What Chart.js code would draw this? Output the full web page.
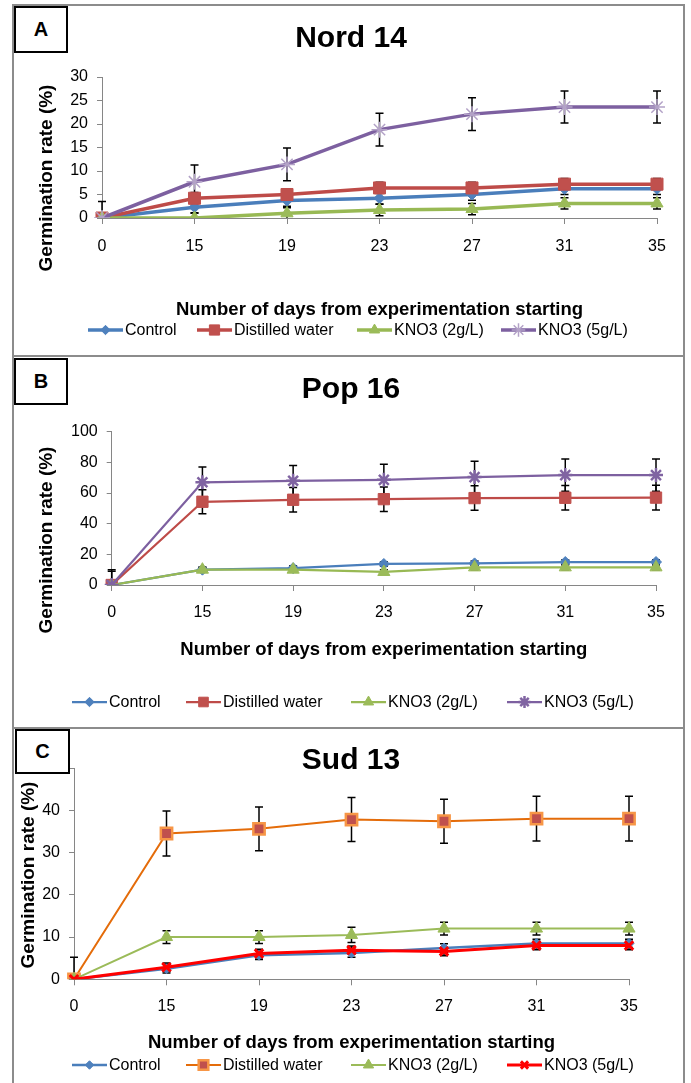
<!DOCTYPE html>
<html>
<head>
<meta charset="utf-8">
<script src="https://cdn.jsdelivr.net/npm/chart.js@4.4.1/dist/chart.umd.min.js"></script>
<style>
  body { margin: 0; background: #fff; width: 691px; height: 1083px; position: relative; overflow: hidden; font-family: "Liberation Sans", Arial, sans-serif; }
  .frame { position: absolute; left: 12px; width: 673px; border: 2px solid #8c8c8c; border-bottom: none; box-sizing: border-box; }
  canvas { position: absolute; left: 13px; }
  .tag { position: absolute; border: 2px solid #000; box-sizing: border-box; background: #fff; font-weight: bold; font-size: 20px; display: flex; align-items: center; justify-content: center; z-index: 2; }
</style>
</head>
<body>
<div class="frame" style="top:4px;height:353px"></div>
<div class="frame" style="top:355px;height:374px"></div>
<div class="frame" style="top:727px;height:360px"></div>

<canvas id="chartA" width="671" height="351" style="top:4px"></canvas>
<canvas id="chartB" width="671" height="372" style="top:356px"></canvas>
<canvas id="chartC" width="671" height="355" style="top:728px"></canvas>

<div class="tag" style="left:14px;top:6px;width:54px;height:47px">A</div>
<div class="tag" style="left:14px;top:358px;width:54px;height:47px">B</div>
<div class="tag" style="left:15px;top:729px;width:55px;height:45px">C</div>

<script>
// days after the start of the experiment (category axis)
const days = ['0', '15', '19', '23', '27', '31', '35'];
const seriesNames = ['Control', 'Distilled water', 'KNO3 (2g/L)', 'KNO3 (5g/L)'];

// A - Nord 14, germination rate (%)
const nordControl = [0, 2.3, 3.7, 4.2, 5.0, 6.2, 6.2];
const nordWater   = [0, 4.2, 5.0, 6.4, 6.4, 7.2, 7.2];
const nordKno2    = [0, 0, 1.0, 1.7, 1.9, 3.1, 3.1];
const nordKno5    = [0, 7.7, 11.4, 18.8, 22.1, 23.6, 23.6];
const nordControlErr = [0, 1.2, 1.2, 1.2, 1.2, 1.2, 1.2];
const nordWaterErr   = [0, 1.2, 1.2, 1.2, 1.2, 1.2, 1.2];
const nordKno2Err    = [0, 1.0, 1.2, 1.2, 1.2, 1.2, 1.2];
const nordKno5Err    = [3.5, 3.6, 3.5, 3.5, 3.5, 3.4, 3.4];

// B - Pop 16
const popControl = [0, 10, 11, 13.7, 14.1, 15, 15];
const popWater   = [0, 54.3, 55.6, 56, 56.7, 56.9, 57];
const popKno2    = [0, 10, 10, 8.5, 11.5, 11.5, 11.5];
const popKno5    = [0, 67, 68, 68.6, 70.4, 71.7, 71.7];
const popControlErr = [0, 1.5, 1.5, 1.5, 1.5, 1.5, 1.5];
const popWaterErr   = [10, 7.8, 8, 8, 8, 8, 8];
const popKno2Err    = [0, 1.5, 1.5, 1.5, 1.5, 1.5, 1.5];
const popKno5Err    = [9, 10, 10, 10.2, 10.4, 10.5, 10.5];

// C - Sud 13
const sudControl = [0, 2.5, 5.7, 6.2, 7.4, 8.5, 8.5];
const sudWater   = [0, 34.5, 35.6, 37.8, 37.4, 38, 38];
const sudKno2    = [0, 10, 10, 10.5, 12, 12, 12];
const sudKno5    = [0, 2.85, 6.1, 6.9, 6.6, 8, 8];
const sudControlErr = [0, 1, 1, 1, 1, 1, 1];
const sudWaterErr   = [5.2, 5.3, 5.2, 5.2, 5.2, 5.3, 5.3];
const sudKno2Err    = [0, 1.5, 1.5, 1.8, 1.5, 1.5, 1.5];
const sudKno5Err    = [0, 1, 1, 1, 1, 1, 1];

const FONT = '"Liberation Sans", Arial, sans-serif';
const AXIS_GRAY = '#868686';

// vertical error bars, read from dataset.errors
const errorBars = {
  id: 'errorBars',
  beforeDatasetsDraw(chart) {
    const ctx = chart.ctx;
    const y = chart.scales.y;
    const area = chart.chartArea;
    ctx.save();
    ctx.beginPath();
    ctx.rect(area.left - 10, area.top - 10, area.right - area.left + 20, area.bottom - area.top + 10);
    ctx.clip();
    ctx.strokeStyle = '#000';
    ctx.lineWidth = 1.5;
    chart.data.datasets.forEach((ds, i) => {
      const meta = chart.getDatasetMeta(i);
      meta.data.forEach((pt, j) => {
        const e = ds.errors[j];
        if (!e) return;
        const v = ds.data[j];
        const top = y.getPixelForValue(v + e);
        const bot = y.getPixelForValue(v - e);
        ctx.beginPath();
        ctx.moveTo(pt.x, top); ctx.lineTo(pt.x, bot);
        ctx.moveTo(pt.x - 4, top); ctx.lineTo(pt.x + 4, top);
        ctx.moveTo(pt.x - 4, bot); ctx.lineTo(pt.x + 4, bot);
        ctx.stroke();
      });
    });
    ctx.restore();
  }
};

// panel title, rotated y title and the excel-like legend
const decor = {
  id: 'decor',
  afterDraw(chart, _, opts) {
    const ctx = chart.ctx;
    ctx.save();
    ctx.fillStyle = '#000';
    ctx.textAlign = 'center';
    ctx.textBaseline = 'middle';
    ctx.font = 'bold 30px ' + FONT;
    ctx.fillText(opts.title, opts.titleX, opts.titleY);

    ctx.save();
    ctx.translate(opts.yTitleX, opts.yTitleY);
    ctx.rotate(-Math.PI / 2);
    ctx.font = 'bold 19px ' + FONT;
    ctx.fillText('Germination rate (%)', 0, 0);
    ctx.restore();

    ctx.font = '16px ' + FONT;
    ctx.textAlign = 'left';
    chart.data.datasets.forEach((ds, i) => {
      const x = opts.legendX[i];
      const ly = opts.legendY;
      ctx.strokeStyle = ds.borderColor;
      ctx.lineWidth = ds.borderWidth;
      ctx.beginPath();
      ctx.moveTo(x, ly); ctx.lineTo(x + 35, ly);
      ctx.stroke();
      ctx.fillStyle = ds.pointBackgroundColor;
      ctx.strokeStyle = ds.pointBorderColor;
      ctx.lineWidth = ds.pointBorderWidth;
      Chart.helpers.drawPoint(ctx, {
        pointStyle: ds.pointStyle, rotation: 0,
        radius: ds.pointRadius * 0.85, borderWidth: ds.pointBorderWidth
      }, x + 17.5, ly);
      ctx.fillStyle = '#000';
      ctx.fillText(ds.label, x + 37, ly + 1);
    });
    ctx.restore();
  }
};

function series(label, data, errors, look) {
  return {
    label: label,
    data: data,
    errors: errors,
    borderColor: look.line,
    borderWidth: look.width,
    pointStyle: look.marker,
    pointRadius: look.radius,
    pointBackgroundColor: look.fill,
    pointBorderColor: look.edge,
    pointBorderWidth: look.edgeWidth,
    tension: 0,
    order: look.order
  };
}

function makeChart(id, datasets, cfg) {
  return new Chart(document.getElementById(id), {
    type: 'line',
    data: { labels: days, datasets: datasets },
    plugins: [errorBars, decor],
    options: {
      responsive: false,
      animation: false,
      events: [],
      layout: { padding: { top: cfg.top, right: cfg.right, bottom: cfg.bottom, left: 0 } },
      plugins: {
        legend: { display: false },
        tooltip: { enabled: false },
        decor: cfg.decor
      },
      scales: {
        x: {
          type: 'category',
          offset: false,
          afterFit(scale) { scale.height = cfg.xHeight; },
          grid: { drawOnChartArea: false, drawTicks: true, tickLength: 6, color: AXIS_GRAY },
          border: { color: AXIS_GRAY, width: 1 },
          ticks: { color: '#000', font: { family: FONT, size: 16 }, padding: cfg.xPad, maxRotation: 0, autoSkip: false },
          title: {
            display: true,
            text: 'Number of days from experimentation starting',
            color: '#000',
            font: { family: FONT, size: 18.5, weight: 'bold' },
            padding: { top: 0, bottom: 1 }
          }
        },
        y: {
          min: 0,
          max: cfg.yMax,
          afterFit(scale) { scale.width = cfg.yWidth; },
          grid: { drawOnChartArea: false, drawTicks: true, tickLength: 5, color: AXIS_GRAY },
          border: { color: AXIS_GRAY, width: 1 },
          ticks: {
            stepSize: cfg.yStep,
            color: '#000',
            font: { family: FONT, size: 16 },
            padding: 9,
            callback: (v) => (cfg.hideTop && v === cfg.yMax ? '' : v)
          }
        }
      }
    }
  });
}

// panel A
makeChart('chartA', [
  series(seriesNames[0], nordControl, nordControlErr, { line: '#4A7EBB', width: 3.5, marker: 'rectRot', radius: 5.5, fill: '#4F81BD', edge: '#4F81BD', edgeWidth: 1, order: 4 }),
  series(seriesNames[1], nordWater, nordWaterErr, { line: '#BE4B48', width: 3.5, marker: 'rect', radius: 8.5, fill: '#C0504D', edge: '#C0504D', edgeWidth: 1, order: 3 }),
  series(seriesNames[2], nordKno2, nordKno2Err, { line: '#98B954', width: 3.5, marker: 'triangle', radius: 7, fill: '#9BBB59', edge: '#9BBB59', edgeWidth: 1, order: 2 }),
  series(seriesNames[3], nordKno5, nordKno5Err, { line: '#7D60A0', width: 3.5, marker: 'star', radius: 8, fill: '#B3A2C7', edge: '#B3A2C7', edgeWidth: 1.5, order: 1 })
], {
  top: 73, right: 27, bottom: 33, xHeight: 104, xPad: 13.4, yWidth: 89, yMax: 30, yStep: 5,
  decor: { title: 'Nord 14', titleX: 338, titleY: 35, yTitleX: 34, yTitleY: 174, legendY: 326, legendX: [75, 184, 344, 488] }
});

// panel B
makeChart('chartB', [
  series(seriesNames[0], popControl, popControlErr, { line: '#4A7EBB', width: 2.25, marker: 'rectRot', radius: 5.5, fill: '#4F81BD', edge: '#4F81BD', edgeWidth: 1, order: 4 }),
  series(seriesNames[1], popWater, popWaterErr, { line: '#BE4B48', width: 2.25, marker: 'rect', radius: 8, fill: '#C0504D', edge: '#C0504D', edgeWidth: 1, order: 3 }),
  series(seriesNames[2], popKno2, popKno2Err, { line: '#98B954', width: 2.25, marker: 'triangle', radius: 7, fill: '#9BBB59', edge: '#9BBB59', edgeWidth: 1, order: 2 }),
  series(seriesNames[3], popKno5, popKno5Err, { line: '#7D60A0', width: 2.25, marker: 'star', radius: 7, fill: '#8064A2', edge: '#8064A2', edgeWidth: 2.5, order: 1 })
], {
  top: 75.7, right: 28, bottom: 66, xHeight: 77, xPad: 12.4, yWidth: 98.7, yMax: 100, yStep: 20,
  decor: { title: 'Pop 16', titleX: 338, titleY: 34, yTitleX: 34, yTitleY: 184, legendY: 346, legendX: [59, 173, 338, 494] }
});

// panel C
makeChart('chartC', [
  series(seriesNames[0], sudControl, sudControlErr, { line: '#4A7EBB', width: 2.5, marker: 'rectRot', radius: 5, fill: '#4F81BD', edge: '#4F81BD', edgeWidth: 1, order: 4 }),
  series(seriesNames[1], sudWater, sudWaterErr, { line: '#E46C0A', width: 2, marker: 'rect', radius: 8, fill: '#C0504D', edge: '#F79646', edgeWidth: 2.5, order: 3 }),
  series(seriesNames[2], sudKno2, sudKno2Err, { line: '#9BBB59', width: 2, marker: 'triangle', radius: 7, fill: '#9BBB59', edge: '#9BBB59', edgeWidth: 1, order: 2 }),
  series(seriesNames[3], sudKno5, sudKno5Err, { line: '#FF0000', width: 3, marker: 'crossRot', radius: 6, fill: '#FF0000', edge: '#FF0000', edgeWidth: 3, order: 1 })
], {
  top: 40, right: 55, bottom: 28, xHeight: 75.7, xPad: 12.1, yWidth: 61, yMax: 50, yStep: 10, hideTop: true,
  decor: { title: 'Sud 13', titleX: 338, titleY: 33, yTitleX: 16, yTitleY: 147, legendY: 337, legendX: [59, 173, 338, 494] }
});
</script>
</body>
</html>
